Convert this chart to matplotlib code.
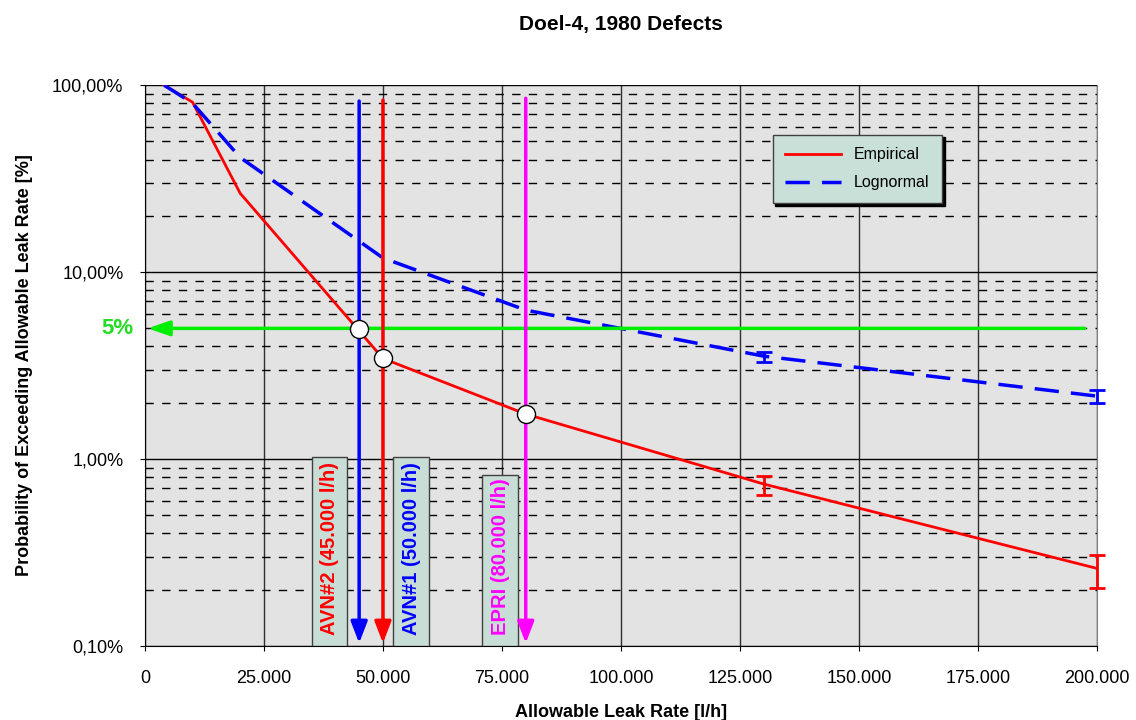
import numpy as np
import matplotlib.pyplot as plt
from matplotlib.patches import Rectangle
from matplotlib.ticker import FixedLocator, FuncFormatter, NullFormatter

plt.rcParams['font.family'] = ['Liberation Sans', 'DejaVu Sans']

# leak rate [l/h] and exceedance probability [%]
emp_x = [4000, 10000, 20000, 50000, 80000, 130000, 200000]
emp_y = [100, 81, 26.4, 3.45, 1.74, 0.735, 0.26]
emp_err_x = [130000, 200000]
emp_err_lo = [0.64, 0.205]
emp_err_hi = [0.815, 0.305]

logn_x = [4000, 10000, 20000, 50000, 80000, 130000, 200000]
logn_y = [100, 80, 41, 11.9, 6.26, 3.55, 2.17]
logn_err_x = [130000, 200000]
logn_err_lo = [3.3, 2.0]
logn_err_hi = [3.75, 2.35]

# limits
limit_names = ["AVN#2 (45.000 l/h)", "AVN#1 (50.000 l/h)", "EPRI (80.000 l/h)"]
limit_x = [45000, 50000, 80000]
limit_top = [85, 86, 88]
limit_col = ['blue', 'red', 'magenta']
label_col = ['red', 'blue', 'magenta']
label_x = [38700, 55900, 74600]
label_top = [1.03, 1.03, 0.82]
target = 5.0
cross_x = [45000, 50000, 80000]
cross_y = [4.96, 3.45, 1.74]

fig = plt.figure(figsize=(11.36, 7.2), dpi=100)
ax = fig.add_axes([0.1276, 0.1028, 0.838, 0.779])
ax.set_facecolor('#e3e3e3')
ax.set_yscale('log')
ax.set_xlim(0, 200000)
ax.set_ylim(0.1, 100)

# grid
ax.yaxis.set_major_locator(FixedLocator([0.1, 1, 10, 100]))
ax.yaxis.set_minor_locator(FixedLocator([m * d for d in [0.1, 1, 10] for m in range(2, 10)]))
ax.yaxis.set_major_formatter(FuncFormatter(lambda v, p: ('%.2f%%' % v).replace('.', ',')))
ax.yaxis.set_minor_formatter(NullFormatter())
ax.set_xticks(np.arange(0, 200001, 25000))
ax.xaxis.set_major_formatter(FuncFormatter(lambda v, p: '0' if v == 0 else '{:,.0f}'.format(v).replace(',', '.')))
ax.grid(True, which='major', axis='y', color='black', lw=1)
ax.grid(True, which='minor', axis='y', color='black', lw=1, ls=(0, (6, 6)))
ax.grid(True, which='major', axis='x', color='#303030', lw=1)
ax.set_axisbelow(True)
ax.tick_params(axis='both', which='both', direction='out', labelsize=13)
ax.tick_params(axis='y', pad=12)
ax.tick_params(axis='x', pad=14)
ax.tick_params(which='minor', length=0)
ax.spines['right'].set_color('#808080')
ax.spines['top'].set_visible(False)

# curves
ax.plot(emp_x, emp_y, color='red', lw=2, label='Empirical', zorder=4)
ax.plot(logn_x, logn_y, color='blue', lw=2.5, ls=(0, (7, 3.5)), label='Lognormal', zorder=4)
ax.vlines(emp_err_x, emp_err_lo, emp_err_hi, color='red', lw=2, zorder=4, clip_on=False)
ax.plot(emp_err_x * 2, emp_err_lo + emp_err_hi, ls='none', marker='_', ms=12, mew=2,
        color='red', zorder=4, clip_on=False)
ax.vlines(logn_err_x, logn_err_lo, logn_err_hi, color='blue', lw=2, zorder=4, clip_on=False)
ax.plot(logn_err_x * 2, logn_err_lo + logn_err_hi, ls='none', marker='_', ms=12, mew=2,
        color='blue', zorder=4, clip_on=False)

# target line
ax.annotate('', xy=(0, target), xytext=(198000, target),
            arrowprops=dict(arrowstyle='-|>,head_width=0.45,head_length=1.3', color='#00ee00', lw=2.5),
            zorder=5)
ax.text(-0.012, target, '5%', transform=ax.get_yaxis_transform(), ha='right', va='center',
        color='#22dd22', fontsize=16, fontweight='bold')

# label boxes
for name, lx, lt, c in zip(limit_names, label_x, label_top, label_col):
    ax.add_patch(Rectangle((lx - 3700, 0.1), 7400, lt - 0.1, facecolor='#c8ddd6',
                           edgecolor='#404040', lw=1, zorder=3))
    ax.text(lx, 0.114, name, rotation=90, ha='center', va='bottom', color=c,
            fontsize=14.5, fontweight='bold', zorder=6)

# vertical limit arrows
for lx, top, c in zip(limit_x, limit_top, limit_col):
    ax.annotate('', xy=(lx, 0.1), xytext=(lx, top),
                arrowprops=dict(arrowstyle='-|>,head_width=0.5,head_length=1.3', color=c, lw=2.5),
                zorder=5)

ax.plot(cross_x, cross_y, ls='none', marker='o', ms=13, mfc='white', mec='black', mew=1, zorder=7)

leg = ax.legend(loc='upper left', bbox_to_anchor=(0.651, 0.926), fontsize=11.5, frameon=True,
                fancybox=False, shadow={'color': 'black', 'alpha': 1}, handlelength=3.5,
                borderpad=0.8, labelspacing=0.8)
leg.get_frame().set_facecolor('#c8e0d8')
leg.get_frame().set_edgecolor('#404040')
leg.get_frame().set_alpha(1)

ax.set_title('Doel-4, 1980 Defects', fontsize=15, fontweight='bold', pad=40)
ax.set_xlabel('Allowable Leak Rate [l/h]', fontsize=13, fontweight='bold', labelpad=12)
ax.set_ylabel('Probability of Exceeding Allowable Leak Rate [%]', fontsize=13, fontweight='bold', labelpad=14)

fig.savefig('out.png', dpi=100)
